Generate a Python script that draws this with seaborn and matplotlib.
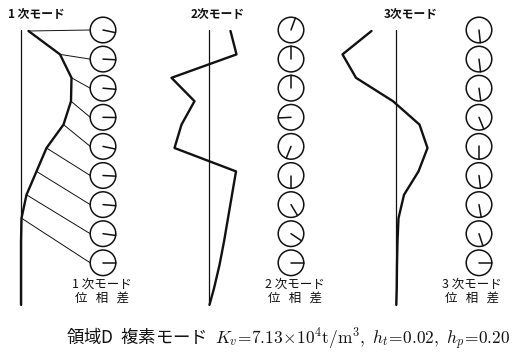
import numpy as np
import matplotlib
matplotlib.use("Agg")
import matplotlib.pyplot as plt
from matplotlib.patches import Circle
import seaborn as sns

# ---- data ----
# node levels along the structure (0 = top), last value = base of the axis
levels = [0, 1, 2, 3, 4, 5, 6, 7, 8, 9, 10, 11, 11.7]

# mode shape amplitudes (common scale, + = right of the axis)
mode1 = [0.15, 0.78, 1.01, 1.00, 0.85, 0.51, 0.31, 0.11, 0.01, 0.0, 0.0, 0.0, 0.0]
mode2 = [0.44, 0.56, -0.74, -0.28, -0.54, -0.68, 0.55, 0.47, 0.39, 0.31, 0.22, 0.11, 0.02]
mode3 = [-0.49, -1.07, -0.80, -0.06, 0.47, 0.63, 0.45, 0.16, 0.05, 0.03, 0.02, 0.015, 0.005]

# phase angle of each node (deg, counter-clockwise from the right)
phase1 = [-12, -3, -5, -1, -12, -3, -5, -8, 0]
phase2 = [70, 90, 90, 183, 248, 270, 301, 326, 0]
phase3 = [-84, -83, -82, -68, -90, -83, -80, -72, 0]

titles = ["1 次モード", "2次モード", "3次モード"]
phase_labels = ["1 次モード\n位   相   差", "2 次モード\n位   相   差", "3 次モード\n位   相   差"]
caption = ("領域D  複素モード  "
           r"$K_v\!=\!7.13\!\times\!10^4\mathrm{t/m^3},\ h_t\!=\!0.02,\ h_p\!=\!0.20$")

# ---- layout (pixel space of the page) ----
axis_x = [21, 208.5, 396]
circle_x = [103, 291, 479]
title_x = [8, 191, 384]
label_x = [102, 295, 472]
top, step, scale = 31, 23.4, 50
c_top, c_step, radius = 30, 29.1, 12.8

sns.set_theme(style="white")
plt.rcParams['font.family'] = ['Noto Sans CJK JP', 'DejaVu Sans']
plt.rcParams['mathtext.fontset'] = 'cm'

fig = plt.figure(figsize=(5.21, 3.58), dpi=100)
ax = fig.add_axes([0, 0, 1, 1])
ax.set_xlim(0, 521)
ax.set_ylim(358, 0)
ax.axis('off')

ink = '#111111'
ys = np.array(levels) * step + top

for i, (mode, phase) in enumerate(zip([mode1, mode2, mode3], [phase1, phase2, phase3])):
    x0 = axis_x[i]
    # reference axis
    ax.plot([x0, x0], [ys[0] - 1, ys[-1]], color=ink, lw=0.9)
    # mode shape
    xs = x0 + np.array(mode) * scale
    sns.lineplot(x=xs, y=ys, sort=False, estimator=None, color=ink, lw=1.7, ax=ax)

    # phase circles
    for k, ang in enumerate(phase):
        cy = c_top + k * c_step
        cx = circle_x[i]
        ax.add_patch(Circle((cx, cy), radius, fill=False, ec=ink, lw=1.1))
        a = np.deg2rad(ang)
        ax.plot([cx, cx + radius * np.cos(a)], [cy, cy - radius * np.sin(a)],
                color=ink, lw=1.1)
        if i == 0:
            # connectors from the mode shape to the phase circles
            ax.plot([xs[k], cx - radius], [ys[k], cy], color=ink, lw=0.7)

    ax.text(title_x[i], 14, titles[i], fontsize=8.5, fontweight='bold',
            ha='left', va='center', color=ink)
    ax.text(label_x[i], 291, phase_labels[i], fontsize=9, ha='center',
            va='center', color=ink, linespacing=1.05)

ax.text(288, 339, caption, fontsize=12.5, ha='center', va='center', color=ink)

fig.savefig('out.png', dpi=100)
